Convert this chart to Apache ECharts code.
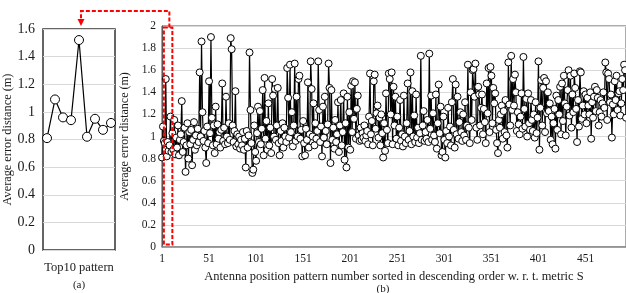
<!DOCTYPE html>
<html>
<head>
<meta charset="utf-8">
<script src="https://cdn.jsdelivr.net/npm/echarts@6/dist/echarts.min.js"></script>
<style>
  html, body { margin: 0; padding: 0; background: #fff; }
  #main { width: 626px; height: 293px; }
</style>
</head>
<body>
<div id="main"></div>
<script>
var FONT = "'Liberation Serif', 'Times New Roman', serif";

// (a) top 10 patterns
var top10Labels = ['1', '2', '3', '4', '5', '6', '7', '8', '9'];
var top10Values = [0.81, 1.09, 0.96, 0.94, 1.52, 0.82, 0.95, 0.87, 0.92];

// (b) all patterns, sorted by metric S (1..494)
var errB_1 = [
  0.81, 1.09, 0.96, 0.94, 1.52, 0.82, 0.95, 0.87, 0.92, 1.18,
  0.86, 1.03, 0.88, 1.15, 0.84, 0.99, 0.90, 1.10, 0.83, 0.97,
  1.02, 1.32, 0.86, 0.95, 1.08, 0.68, 0.92, 1.12, 0.80, 1.04,
  0.93, 1.06, 0.74, 0.97, 1.13, 0.88, 1.01, 0.92, 1.07, 0.95,
  1.58, 1.00, 1.86, 1.22, 0.96, 1.05, 0.90, 0.76, 1.09, 0.94,
  1.50, 1.03, 1.90, 1.17, 0.92, 1.10, 0.85, 1.27, 0.93, 1.11,
  0.98, 1.04, 0.90, 1.06, 1.48, 0.96, 1.08, 0.93, 1.36, 1.00,
  0.94, 1.12, 0.97, 1.89, 1.79, 1.10, 0.95, 1.05, 1.41, 0.91,
  1.02, 0.93, 1.00, 0.89, 0.97, 0.92, 1.04, 0.88, 0.98, 0.72,
  1.05, 0.90, 1.01, 1.76, 1.24, 0.94, 0.67, 0.70, 1.10, 0.86
];
var errB_2 = [
  0.78, 1.03, 1.27, 0.95, 1.23, 0.93, 1.07, 1.42, 0.83, 1.53,
  0.98, 1.14, 0.88, 1.30, 0.92, 1.08, 0.85, 1.52, 1.37, 1.00,
  1.43, 0.97, 1.10, 1.44, 0.94, 0.83, 1.05, 0.96, 1.12, 0.90,
  1.08, 1.00, 0.95, 1.62, 1.35, 0.99, 1.65, 1.04, 1.22, 0.91,
  1.10, 1.66, 0.96, 1.36, 1.00, 1.52, 1.55, 0.98, 1.06, 0.82,
  1.14, 0.94, 0.83, 1.07, 0.97, 1.49, 0.90, 1.02, 1.68, 1.43,
  1.00, 1.30, 0.92, 1.12, 0.98, 1.05, 1.68, 1.24, 0.95, 1.09,
  0.82, 1.27, 0.99, 1.36, 1.05, 0.93, 1.11, 1.66, 1.44, 0.76,
  1.42, 0.97, 1.08, 0.89, 1.15, 0.95, 1.02, 1.31, 0.86, 1.10,
  1.33, 0.92, 1.04, 1.39, 0.79, 1.12, 0.72, 1.36, 0.90, 1.22
];
var errB_3 = [
  0.88, 1.46, 1.04, 1.50, 1.16, 1.49, 0.98, 1.25, 1.37, 1.01,
  0.96, 1.08, 0.97, 1.03, 0.99, 1.10, 0.96, 1.01, 1.05, 0.93,
  1.18, 1.57, 1.02, 1.14, 0.92, 1.50, 1.56, 1.07, 1.21, 1.28,
  0.99, 1.17, 0.92, 1.20, 1.03, 0.81, 1.12, 0.87, 1.39, 1.06,
  0.94, 1.57, 1.52, 1.20, 1.58, 0.93, 1.45, 1.10, 1.36, 0.98,
  1.18, 0.92, 1.08, 1.33, 0.96, 1.02, 0.91, 1.37, 1.00, 0.94,
  1.12, 1.48, 0.97, 1.05, 1.58, 0.93, 1.41, 1.00, 1.19, 0.95,
  1.38, 0.99, 1.08, 0.94, 1.03, 1.73, 0.97, 1.10, 1.23, 0.96,
  1.04, 0.98, 1.15, 0.95, 1.75, 1.07, 1.37, 0.97, 1.21, 1.01,
  0.95, 1.38, 0.89, 1.12, 1.47, 1.03, 1.27, 0.83, 0.86, 1.18
];
var errB_4 = [
  0.97, 0.81, 1.05, 0.94, 1.26, 1.00, 1.09, 0.92, 1.31, 1.52,
  1.06, 0.90, 1.47, 1.02, 1.36, 0.98, 1.13, 1.22, 1.04, 0.96,
  1.20, 1.01, 1.31, 0.97, 1.10, 1.65, 1.08, 0.94, 1.40, 1.15,
  1.60, 1.61, 1.36, 1.66, 1.08, 0.97, 1.45, 1.38, 1.10, 1.26,
  1.38, 1.02, 1.25, 1.13, 0.94, 1.48, 1.21, 1.62, 1.04, 1.63,
  1.55, 1.12, 1.44, 1.30, 1.39, 1.06, 0.94, 0.85, 1.15, 1.08,
  1.20, 1.28, 0.98, 1.23, 1.04, 1.33, 1.01, 0.90, 1.67, 1.29,
  1.10, 1.73, 1.24, 1.52, 1.28, 1.56, 1.40, 1.05, 1.22, 1.11,
  1.02, 1.18, 1.39, 1.07, 1.72, 1.25, 1.09, 1.34, 1.00, 1.39,
  1.12, 1.06, 1.33, 1.15, 1.05, 1.20, 0.99, 1.31, 1.03, 1.17
];
var errB_5 = [
  1.68, 0.88, 1.26, 1.51, 1.10, 1.44, 1.53, 1.04, 1.50, 1.21,
  1.40, 1.23, 1.30, 0.97, 1.18, 0.93, 1.12, 1.25, 0.89, 1.37,
  1.06, 1.33, 1.20, 1.45, 1.02, 1.48, 1.14, 1.55, 1.30, 1.01,
  1.27, 1.42, 1.60, 1.19, 1.55, 1.08, 1.38, 1.22, 1.57, 1.44,
  1.25, 0.95, 1.33, 1.09, 1.59, 1.58, 1.16, 1.28, 1.41, 1.20,
  1.38, 1.12, 1.35, 1.28, 1.20, 1.40, 0.98, 1.31, 1.17, 1.36,
  1.45, 1.23, 1.42, 1.35, 1.10, 1.22, 1.33, 1.18, 1.30, 1.40,
  1.26, 1.67, 1.58, 1.15, 1.57, 1.52, 1.31, 1.38, 0.99, 1.29,
  1.20, 1.50, 1.33, 1.55, 1.24, 1.39, 1.41, 1.19, 1.30, 1.52,
  1.42, 1.65, 1.60, 1.17
];
var allValues = errB_1.concat(errB_2, errB_3, errB_4, errB_5);
var patternNo = allValues.map(function (v, i) { return String(i + 1); });

var chart = echarts.init(document.getElementById('main'));

var textColor = '#1a1a1a';

var option = {
  animation: false,
  textStyle: { fontFamily: FONT },
  grid: [
    { left: 43, top: 29, width: 72, height: 221, show: true, borderColor: '#333', borderWidth: 1.5 },
    { left: 162, top: 26, right: -1, height: 221, show: true, borderColor: '#595959', borderWidth: 1 }
  ],
  xAxis: [
    {
      gridIndex: 0, type: 'category', data: top10Labels, boundaryGap: true,
      axisLine: { show: false }, axisTick: { show: false }, axisLabel: { show: false },
      name: 'Top10 pattern', nameLocation: 'middle', nameGap: 11,
      nameTextStyle: { fontFamily: FONT, fontSize: 12.5, color: textColor }
    },
    {
      gridIndex: 1, type: 'category', data: patternNo, boundaryGap: false,
      axisLine: { lineStyle: { color: '#8c8c8c', width: 1.5 } },
      axisTick: { show: false },
      axisLabel: {
        interval: function (idx) { return idx % 50 === 0; },
        margin: 6, fontFamily: FONT, fontSize: 11.5, color: textColor
      },
      name: 'Antenna position pattern number sorted in descending order w. r. t. metric S',
      nameLocation: 'middle', nameGap: 19,
      nameTextStyle: { fontFamily: FONT, fontSize: 12.5, color: textColor }
    }
  ],
  yAxis: [
    {
      gridIndex: 0, type: 'value', min: 0, max: 1.6, interval: 0.2,
      axisLine: { show: false }, axisTick: { show: false },
      axisLabel: { margin: 8, fontFamily: FONT, fontSize: 14, color: textColor },
      splitLine: { lineStyle: { color: '#d9d9d9', width: 1 } },
      name: 'Average error distance (m)', nameLocation: 'middle', nameGap: 25,
      nameTextStyle: { fontFamily: FONT, fontSize: 12.3, color: textColor }
    },
    {
      gridIndex: 1, type: 'value', min: 0, max: 2, interval: 0.2,
      axisLine: { show: true, lineStyle: { color: '#595959', width: 1.2 } }, axisTick: { show: false },
      axisLabel: { margin: 6, fontFamily: FONT, fontSize: 11.5, color: textColor },
      splitLine: { lineStyle: { color: '#d9d9d9', width: 1 } },
      name: 'Average error distance (m)', nameLocation: 'middle', nameGap: 29,
      nameTextStyle: { fontFamily: FONT, fontSize: 12, color: textColor }
    }
  ],
  series: [
    {
      type: 'line', xAxisIndex: 0, yAxisIndex: 0, data: top10Values,
      symbol: 'circle', symbolSize: 9, showAllSymbol: true,
      lineStyle: { color: '#000', width: 1.2 },
      itemStyle: { color: '#fff', borderColor: '#000', borderWidth: 1 }
    },
    {
      type: 'line', xAxisIndex: 1, yAxisIndex: 1, data: allValues,
      symbol: 'circle', symbolSize: 7, showAllSymbol: true,
      lineStyle: { color: '#000', width: 1.2 },
      itemStyle: { color: '#fff', borderColor: '#000', borderWidth: 1 }
    }
  ]
};
chart.setOption(option);

// red dashed box around top 10 in (b) and the arrow pointing to (a)
var boxTL = chart.convertToPixel({ gridIndex: 1 }, ['3', 2]);
var boxBR = chart.convertToPixel({ gridIndex: 1 }, ['12', 0]);
var peakA = chart.convertToPixel({ gridIndex: 0 }, ['5', 1.6]);
var topY = boxTL[1] + 1.5;
var botY = boxBR[1] - 2.5;
var connX = boxBR[0] - 3;
var arrowX = peakA[0] + 2;
var redDash = { stroke: '#ff0000', lineWidth: 2, lineDash: [4, 2], fill: 'none' };

chart.setOption({
  graphic: [
    {
      type: 'rect', z: 100, silent: true,
      shape: { x: boxTL[0], y: topY, width: boxBR[0] - boxTL[0], height: botY - topY },
      style: redDash
    },
    {
      type: 'polyline', z: 100, silent: true,
      shape: { points: [[connX, topY], [connX, 11], [arrowX, 11], [arrowX, 20]] },
      style: redDash
    },
    {
      type: 'polygon', z: 100, silent: true,
      shape: { points: [[arrowX - 3.5, 19], [arrowX + 3.5, 19], [arrowX, 26]] },
      style: { fill: '#ff0000' }
    },
    {
      type: 'text', x: 79, y: 285, silent: true,
      style: { text: '(a)', font: '11px ' + FONT, fill: textColor, textAlign: 'center', textVerticalAlign: 'middle' }
    },
    {
      type: 'text', x: 383, y: 289, silent: true,
      style: { text: '(b)', font: '11px ' + FONT, fill: textColor, textAlign: 'center', textVerticalAlign: 'middle' }
    }
  ]
});
</script>
</body>
</html>
